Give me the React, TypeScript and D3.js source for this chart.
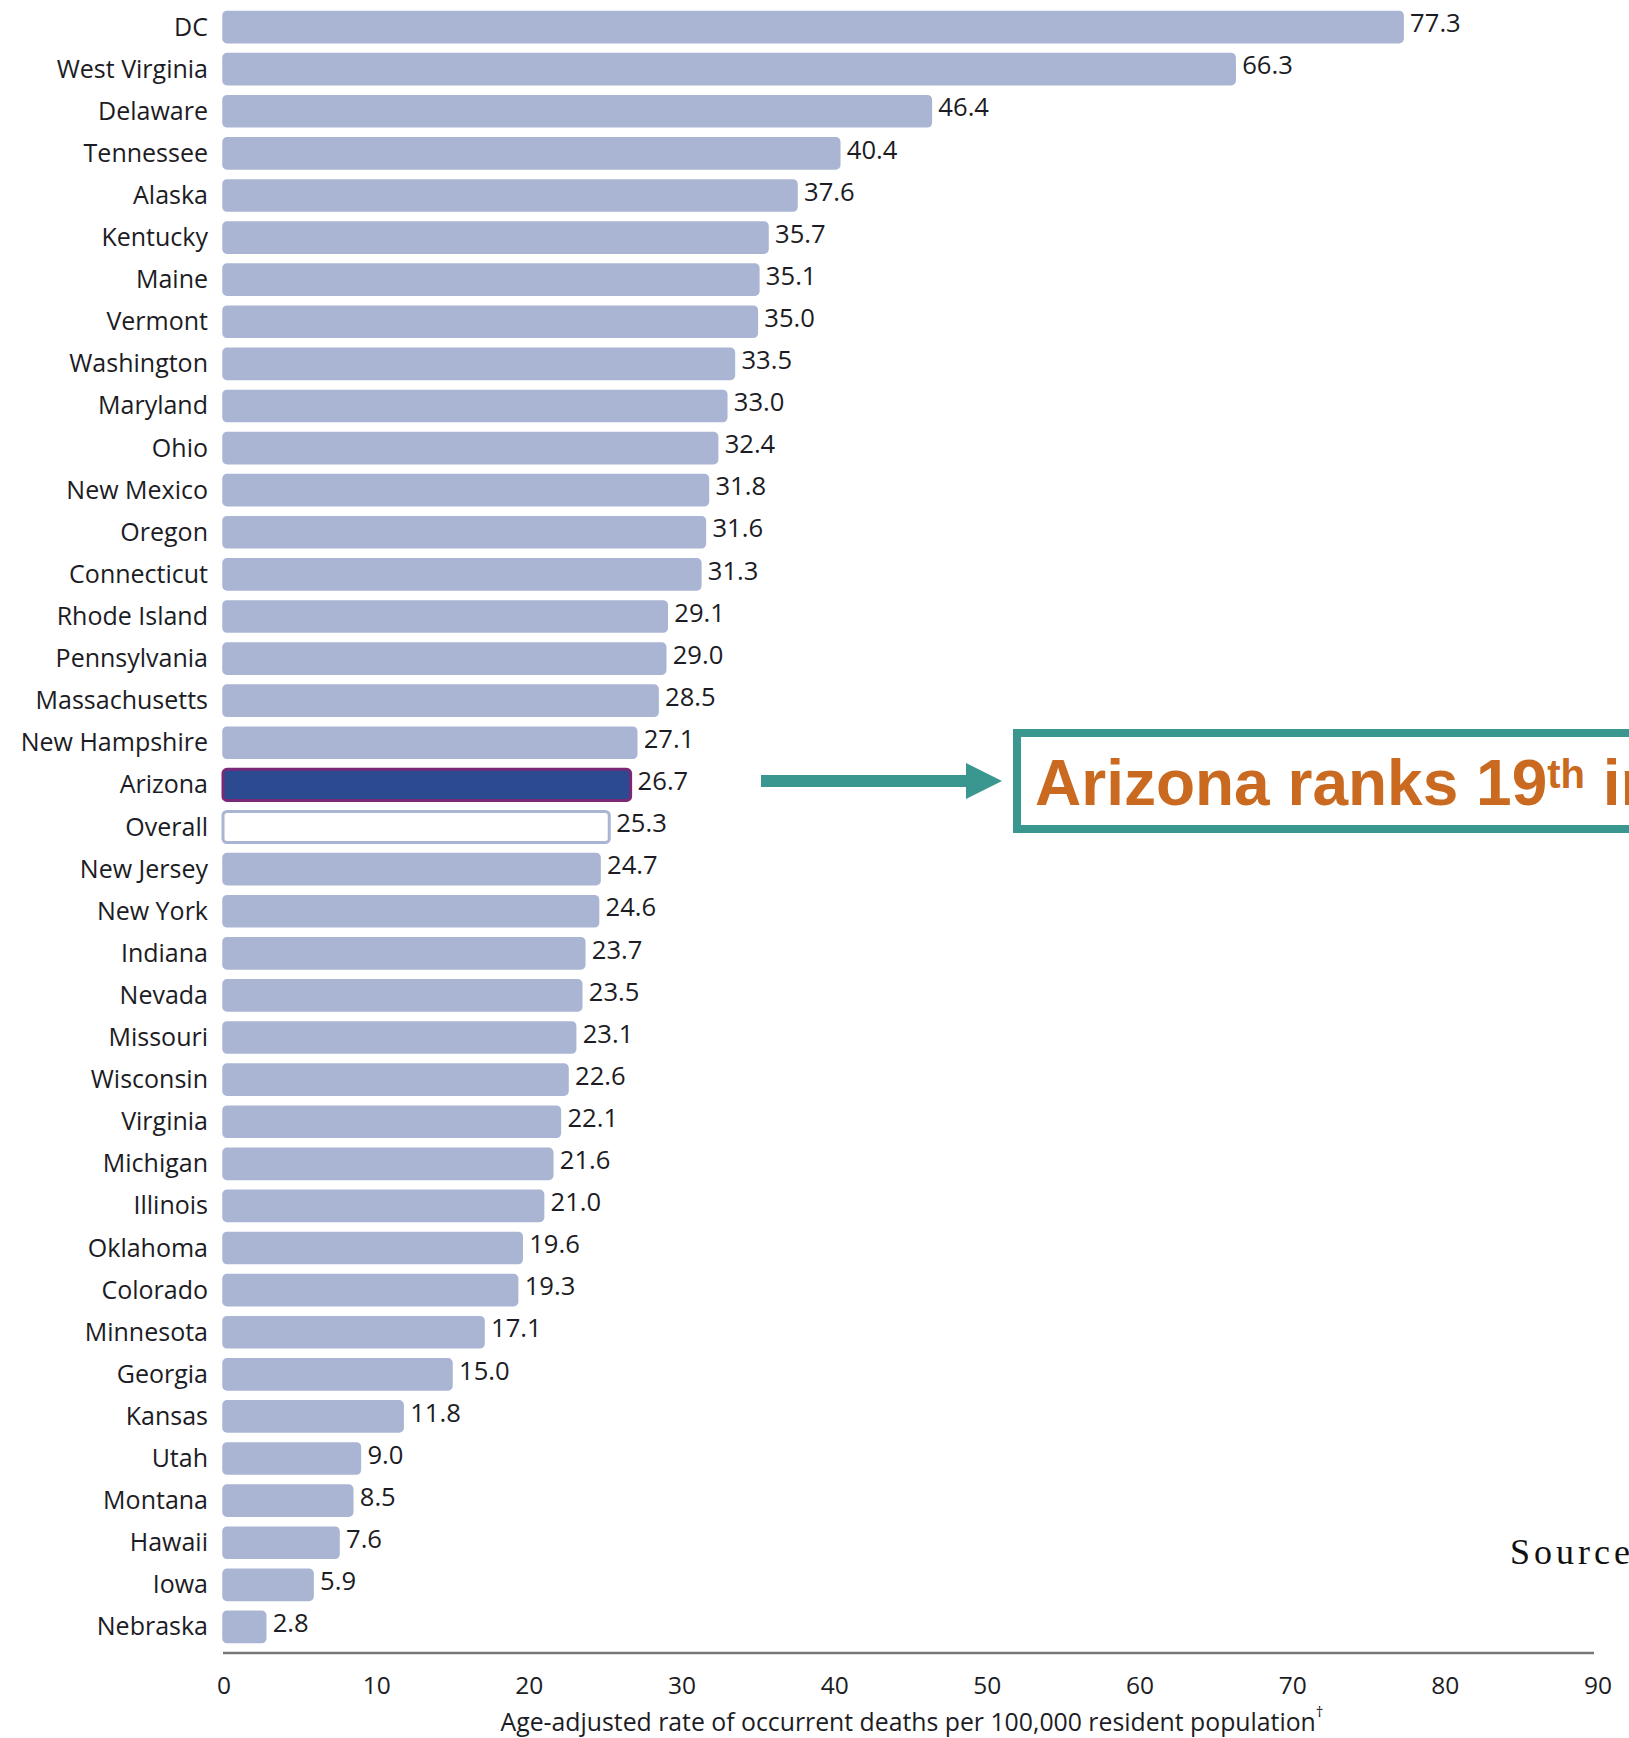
import React from "react";
import * as d3 from "d3";

const states = [
  "DC", "West Virginia", "Delaware", "Tennessee", "Alaska", "Kentucky", "Maine", "Vermont",
  "Washington", "Maryland", "Ohio", "New Mexico", "Oregon", "Connecticut", "Rhode Island",
  "Pennsylvania", "Massachusetts", "New Hampshire", "Arizona", "Overall", "New Jersey",
  "New York", "Indiana", "Nevada", "Missouri", "Wisconsin", "Virginia", "Michigan", "Illinois",
  "Oklahoma", "Colorado", "Minnesota", "Georgia", "Kansas", "Utah", "Montana", "Hawaii",
  "Iowa", "Nebraska",
];
const rates = [
  77.3, 66.3, 46.4, 40.4, 37.6, 35.7, 35.1, 35.0, 33.5, 33.0, 32.4, 31.8, 31.6, 31.3, 29.1,
  29.0, 28.5, 27.1, 26.7, 25.3, 24.7, 24.6, 23.7, 23.5, 23.1, 22.6, 22.1, 21.6, 21.0, 19.6,
  19.3, 17.1, 15.0, 11.8, 9.0, 8.5, 7.6, 5.9, 2.8,
];
const xTicks = [0, 10, 20, 30, 40, 50, 60, 70, 80, 90];
const axisTitle = "Age-adjusted rate of occurrent deaths per 100,000 resident population";
const calloutMain = "Arizona ranks 19";
const calloutSup = "th";
const calloutRest = " in the nation";
const sourceText = "Source: CDC WONDER";

const W = 1629;
const H = 1738;
const FONT = "'Open Sans', 'Noto Sans', sans-serif";

export default function App() {
  const x = d3.scaleLinear().domain([0, 90]).range([223, 1597]);
  const y = d3.scaleBand<string>().domain(states).range([6, 1648]).paddingInner(0.26).paddingOuter(0.13);
  const bw = y.bandwidth();

  return (
    <svg
      width={W}
      height={H}
      viewBox={`0 0 ${W} ${H}`}
      style={{ position: "absolute", left: 0, top: 0, display: "block", background: "#fff" }}
    >
      {states.map((s, i) => {
        const v = rates[i];
        const y0 = y(s)!;
        const isAz = s === "Arizona";
        const isOverall = s === "Overall";
        const fill = isAz ? "#2b4a90" : isOverall ? "#ffffff" : "#a9b5d3";
        const stroke = isAz ? "#7a2878" : "#a9b5d3";
        const sw = isAz || isOverall ? 3 : 1.5;
        return (
          <g key={s}>
            <rect
              x={x(0)}
              y={y0}
              width={x(v) - x(0)}
              height={bw}
              rx={4}
              fill={fill}
              stroke={stroke}
              strokeWidth={sw}
            />
            <text
              x={208}
              y={y0 + bw / 2 - 0.5}
              dy="0.36em"
              textAnchor="end"
              fontFamily={FONT}
              fontSize={25}
              fill="#1c1c24"
            >
              {s}
            </text>
            <text
              x={x(v) + 7}
              y={y0 + bw / 2 - 4}
              dy="0.36em"
              fontFamily={FONT}
              fontSize={25.6}
              fill="#1c1c24"
            >
              {d3.format(".1f")(v)}
            </text>
          </g>
        );
      })}

      <line x1={x(0)} x2={x(90) - 3} y1={1653} y2={1653} stroke="#777" strokeWidth={2.5} />
      {xTicks.map((t) => (
        <text
          key={t}
          x={x(t) + 1}
          y={1694}
          textAnchor="middle"
          fontFamily={FONT}
          fontSize={24.5}
          fill="#1c1c24"
        >
          {t}
        </text>
      ))}
      <text x={912} y={1731} textAnchor="middle" fontFamily={FONT} fontSize={24.8} fill="#1c1c24">
        {axisTitle}
        <tspan fontSize={15} dy={-14}>†</tspan>
      </text>

      {/* Callout arrow */}
      <rect x={761} y={775} width={206} height={12} fill="#3a978f" />
      <path d="M966,763 L1002,781 L966,799 Z" fill="#3a978f" />

      {/* Callout box */}
      <rect x={1017} y={733} width={700} height={96} fill="#fff" stroke="#3a978f" strokeWidth={8} />
      <text
        x={1035}
        y={805}
        fontFamily="'Liberation Sans', Arial, sans-serif"
        fontWeight="bold"
        fontSize={64}
        fill="#c96a20"
      >
        {calloutMain}
        <tspan fontSize={40} dy={-17}>{calloutSup}</tspan>
        <tspan dy={17}>{calloutRest}</tspan>
      </text>

      <text
        x={1510}
        y={1564}
        fontFamily="'Liberation Serif', 'Times New Roman', serif"
        fontSize={36}
        letterSpacing={4}
        fill="#111"
      >
        {sourceText}
      </text>
    </svg>
  );
}
